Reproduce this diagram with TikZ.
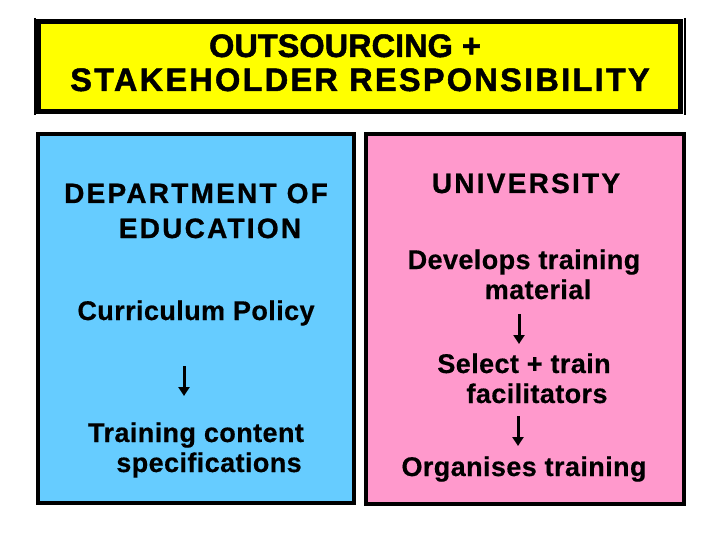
\documentclass[tikz,border=0pt]{standalone}
\usepackage{fontspec}
\setmainfont{Liberation Sans}
\newfontfamily\bodyf[LetterSpace=1.5,FakeBold=0.5]{Liberation Sans}
\newfontfamily\capsf[LetterSpace=8,FakeBold=0.9]{Liberation Sans}
\newfontfamily\titlef[FakeBold=1.5]{Liberation Sans}
\newfontfamily\titlesp[LetterSpace=7,FakeBold=1.5]{Liberation Sans}
\usetikzlibrary{arrows.meta}
\definecolor{ttlyellow}{HTML}{FFFF00}
\definecolor{leftblue}{HTML}{66CCFF}
\definecolor{rightpink}{HTML}{FF99CC}
\tikzset{
  body/.style={inner sep=0pt, anchor=base, font=\bodyf\bfseries\fontsize{27pt}{32pt}\selectfont},
  capsline/.style={inner sep=0pt, anchor=base, font=\capsf\bfseries\fontsize{28pt}{32pt}\selectfont},
  ttlline/.style={inner sep=0pt, anchor=base, font=\titlef\bfseries\fontsize{32.5pt}{36pt}\selectfont},
  ttlspaced/.style={inner sep=0pt, anchor=base, font=\titlesp\bfseries\fontsize{32.5pt}{36pt}\selectfont},
  flowarrow/.style={line width=3pt, -{Triangle[length=9pt,width=11pt]}},
  panel/.style={draw=black, line width=4pt}
}
\begin{document}
\begin{tikzpicture}[x=1pt,y=-1pt]
\useasboundingbox[fill=white] (0,0) rectangle (720,540);
% title box
\draw[fill=ttlyellow, line width=5pt] (38.7,21.7) rectangle (680,111.3);
\draw[line width=1.3pt] (35,18) -- (35,115);
\draw[line width=1.3pt] (685,18) -- (685,115);
\node[ttlline] (title1) at (345,57) {OUTSOURCING +};
\node[ttlspaced] (title2) at (360,91) {STAKEHOLDER RESPONSIBILITY};
% panels
\draw[panel, fill=leftblue] (37.5,134) rectangle (354,503);
\draw[panel, fill=rightpink] (366,134.5) rectangle (684,504);
% left panel
\node[capsline] (dept1) at (196,203) {DEPARTMENT OF};
\node[capsline] (dept2) at (210,238) {EDUCATION};
\node[body] (curr) at (196,320) {Curriculum Policy};
\node[body] (train1) at (196,442) {Training content};
\node[body] (train2) at (209,472) {specifications};
\coordinate (la1s) at (184,366);
\coordinate (la1e) at (184,396);
\draw[flowarrow] (la1s) -- (la1e);
% right panel
\node[capsline] (uni) at (526,193) {UNIVERSITY};
\node[body] (dev1) at (524,269) {Develops training};
\node[body] (dev2) at (538,299) {material};
\node[body] (sel1) at (524,373) {Select + train};
\node[body] (sel2) at (537,403) {facilitators};
\node[body] (org) at (524,476) {Organises training};
\coordinate (ra1s) at (519,314);
\coordinate (ra1e) at (519,344);
\draw[flowarrow] (ra1s) -- (ra1e);
\coordinate (ra2s) at (518,416);
\coordinate (ra2e) at (518,446);
\draw[flowarrow] (ra2s) -- (ra2e);
\end{tikzpicture}
\end{document}
